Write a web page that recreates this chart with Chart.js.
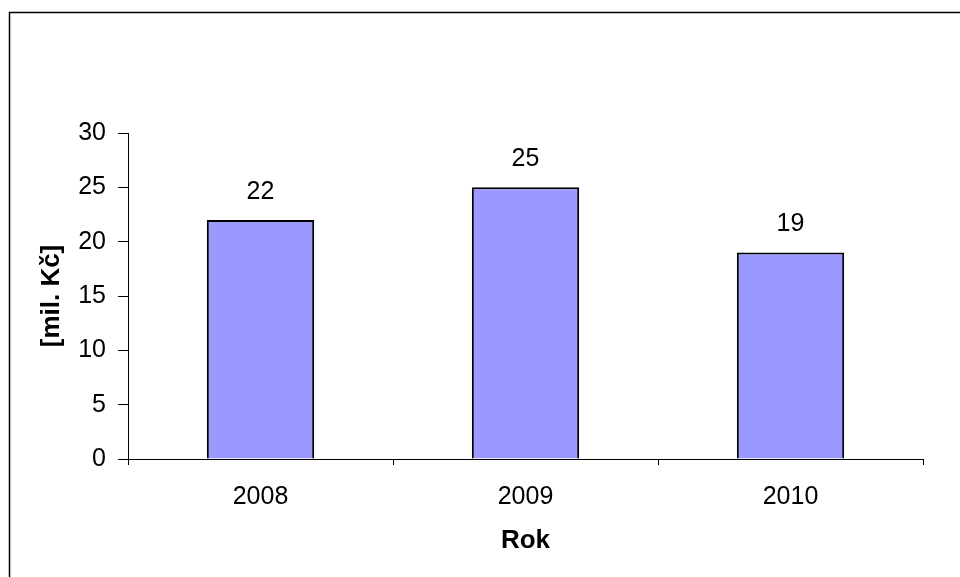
<!DOCTYPE html>
<html>
<head>
<meta charset="utf-8">
<script src="https://cdn.jsdelivr.net/npm/chart.js@4/dist/chart.umd.min.js"></script>
<style>
  body { margin: 0; background: #fff; }
  canvas { display: block; }
</style>
</head>
<body>
<canvas id="graf" width="960" height="577"></canvas>
<script>
var roky = ["2008", "2009", "2010"];
var hodnoty = [22, 25, 19];
var yTicks = [0, 5, 10, 15, 20, 25, 30];

var pismo = "'Liberation Sans', Arial, sans-serif";

// ramecek kolem celeho grafu a popisky nad sloupci
var ramecek = {
    id: "ramecek",
    beforeDraw: function(chart) {
        var ctx = chart.ctx;
        ctx.save();
        ctx.fillStyle = "#fff";
        ctx.fillRect(0, 0, chart.width, chart.height);
        ctx.strokeStyle = "#000";
        ctx.lineWidth = 1.5;
        ctx.strokeRect(9.5, 12.5, 1000, 1000);
        ctx.restore();
    },
    afterDatasetsDraw: function(chart) {
        var ctx = chart.ctx;
        var meta = chart.getDatasetMeta(0);
        ctx.save();
        ctx.font = "25px " + pismo;
        ctx.fillStyle = "#000";
        ctx.textAlign = "center";
        ctx.textBaseline = "middle";
        meta.data.forEach(function(bar, i) {
            ctx.fillText(String(hodnoty[i]), bar.x, bar.y - 28);
        });
        ctx.restore();
    }
};

var ctx = document.getElementById("graf");
var graf = new Chart(ctx, {
    type: "bar",
    data: {
        labels: roky,
        datasets: [
            {
                data: hodnoty,
                backgroundColor: "#9999FF",
                borderColor: "#000",
                borderWidth: 2,
                barPercentage: 0.405,
                categoryPercentage: 1
            }
        ]
    },
    options: {
        responsive: false,
        animation: false,
        layout: { padding: { left: 0, top: 133, right: 37, bottom: 0 } },
        plugins: {
            legend: { display: false },
            tooltip: { enabled: false }
        },
        scales: {
            x: {
                grid: { drawOnChartArea: false, color: "#000", tickLength: 6 },
                border: { color: "#000", width: 1 },
                ticks: { color: "#000", font: { family: pismo, size: 25 }, padding: 17, maxRotation: 0 },
                title: {
                    display: true, text: "Rok", color: "#000",
                    font: { family: pismo, size: 26, weight: "bold" },
                    padding: { top: 0, bottom: 21 }
                },
                afterFit: function(scale) { scale.height = 118; }
            },
            y: {
                min: 0,
                max: 30,
                grid: { drawOnChartArea: false, color: "#000", tickLength: 10 },
                border: { color: "#000", width: 1 },
                ticks: {
                    stepSize: 5, color: "#000", padding: 12,
                    font: { family: pismo, size: 25 }
                },
                afterBuildTicks: function(scale) {
                    scale.ticks = yTicks.map(function(v) { return { value: v }; });
                },
                title: {
                    display: true, text: "[mil. Kč]", color: "#000",
                    font: { family: pismo, size: 26, weight: "bold" },
                    padding: { top: 36, bottom: 0 }
                },
                afterFit: function(scale) { scale.width = 128; }
            }
        }
    },
    plugins: [ramecek]
});
</script>
</body>
</html>
